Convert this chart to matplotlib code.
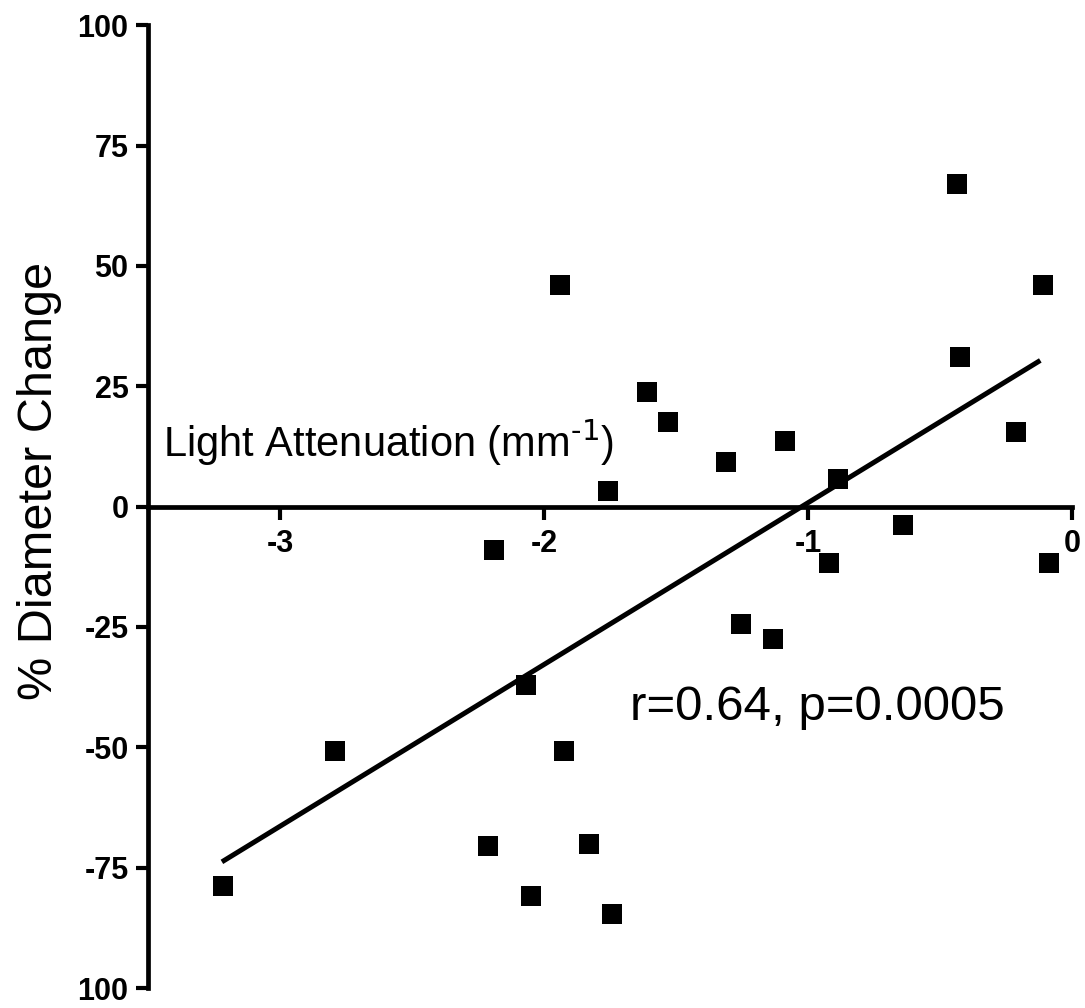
import matplotlib
matplotlib.use('Agg')
import matplotlib.pyplot as plt
import numpy as np

plt.rcParams['font.family'] = ['Liberation Sans', 'DejaVu Sans']
plt.rcParams['mathtext.default'] = 'regular'

# light attenuation (mm^-1) vs % diameter change
atten = np.array([-3.216, -2.792, -2.189, -2.212, -2.068, -2.049, -1.939, -1.924,
                  -1.830, -1.758, -1.742, -1.610, -1.530, -1.311, -1.254, -1.133,
                  -1.087, -0.886, -0.920, -0.640, -0.436, -0.424, -0.212, -0.110,
                  -0.087])
diam = np.array([-78.8, -50.8, -9.1, -70.5, -37.1, -80.9, 46.1, -50.8,
                 -70.1, 3.3, -84.6, 23.9, 17.6, 9.3, -24.3, -27.4,
                 13.7, 5.8, -11.8, -3.9, 67.0, 31.1, 15.4, 46.1,
                 -11.8])

# regression line
fit_slope = 33.6
fit_icpt = 34.4
fit_x = np.array([-3.22, -0.12])

xticks = [-3, -2, -1, 0]
xticklabels = ['-3', '-2', '-1', '0']
yticks = [100, 75, 50, 25, 0, -25, -50, -75, -100]
yticklabels = ['100', '75', '50', '25', '0', '-25', '-50', '-75', '100']

fig = plt.figure(figsize=(10.85, 10.08), dpi=100)
ax = fig.add_axes([0.1364, 0.0198, 0.988 - 0.1364, 0.975 - 0.0198])

ax.plot(atten, diam, linestyle='none', marker='s', markersize=15,
        markerfacecolor='black', markeredgewidth=0, zorder=3)
ax.plot(fit_x, fit_slope * fit_x + fit_icpt, color='black', lw=3.6,
        solid_capstyle='butt', zorder=2)

ax.set_xlim(-3.5, 0)
ax.set_ylim(-100, 100)

ax.spines['top'].set_visible(False)
ax.spines['right'].set_visible(False)
ax.spines['bottom'].set_position(('data', 0))
for s in ['left', 'bottom']:
    ax.spines[s].set_linewidth(3.4)
    ax.spines[s].set_capstyle('projecting')

ax.set_xticks(xticks)
ax.set_xticklabels(xticklabels)
ax.set_yticks(yticks)
ax.set_yticklabels(yticklabels)
ax.tick_params(axis='both', direction='out', length=9, width=3, labelsize=22)
ax.tick_params(axis='y', pad=5)
ax.tick_params(axis='x', pad=7)
for lab in ax.get_xticklabels() + ax.get_yticklabels():
    lab.set_fontweight('bold')

ax.set_ylabel('% Diameter Change', fontsize=35)
ax.yaxis.set_label_coords(-0.093, 0.527)

ax.text(-3.443, 10.4, 'Light Attenuation (mm$^{\\text{-1}}$)', fontsize=30,
        va='baseline', ha='left')
ax.text(-1.674, -44.4, 'r=0.64, p=0.0005', fontsize=35.5,
        va='baseline', ha='left')

fig.savefig('out.png', dpi=100)
